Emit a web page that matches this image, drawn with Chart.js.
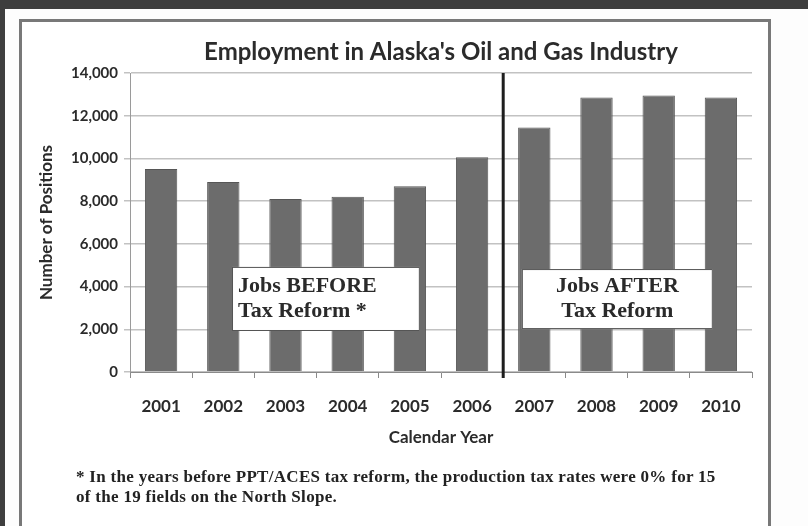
<!DOCTYPE html>
<html>
<head>
<meta charset="utf-8">
<script src="https://cdn.jsdelivr.net/npm/chart.js@4"></script>
<style>
  html, body { margin: 0; padding: 0; }
  body { width: 808px; height: 526px; background: #3e3e3e; position: relative; overflow: hidden; }
  #sheet { position: absolute; left: 5px; top: 9px; width: 803px; height: 517px; background: #fdfdfd; }
  #panel { position: absolute; left: 19px; top: 19px; width: 746px; height: 520px; border: 3px solid #787878; background: #fff; }
  #wrap { position: absolute; left: 0; top: 0; width: 808px; height: 526px; }
  #note { position: absolute; left: 76px; top: 467px; width: 700px; font: bold 17px "Liberation Serif", serif; letter-spacing: 0.3px; color: #222; line-height: 20px; }
</style>
</head>
<body>
<div id="sheet"></div>
<div id="panel"></div>
<div id="wrap"><canvas id="myChart" width="808" height="526"></canvas></div>
<div id="note">* In the years before PPT/ACES tax reform, the production tax rates were 0% for 15<br>of the 19 fields on the North Slope.</div>
<script>
const years = ['2001', '2002', '2003', '2004', '2005', '2006', '2007', '2008', '2009', '2010'];
const positions = [9500, 8900, 8100, 8200, 8700, 10050, 11450, 12850, 12950, 12850];
const yTicks = [0, 2000, 4000, 6000, 8000, 10000, 12000, 14000];

const titleText = "Employment in Alaska's Oil and Gas Industry";
const boxes = [
  { lines: ['Jobs BEFORE', 'Tax Reform *'], x0: 1.14, x1: 4.16, y0: 1920, y1: 4920, align: 'left' },
  { lines: ['Jobs AFTER', 'Tax Reform'], x0: 5.80, x1: 8.87, y0: 2010, y1: 4820, align: 'center' }
];

const extras = {
  id: 'extras',
  afterDatasetsDraw(chart) {
    const ctx = chart.ctx;
    const xs = chart.scales.x, ys = chart.scales.y;
    const area = chart.chartArea;

    // divider between 2006 and 2007
    const xd = xs.getPixelForValue(5.5);
    ctx.save();
    ctx.strokeStyle = '#1e1e1e';
    ctx.lineWidth = 3;
    ctx.beginPath();
    ctx.moveTo(xd, area.top);
    ctx.lineTo(xd, area.bottom + 6);
    ctx.stroke();

    // text boxes
    boxes.forEach(b => {
      const l = xs.getPixelForValue(b.x0), r = xs.getPixelForValue(b.x1);
      const t = ys.getPixelForValue(b.y1), bt = ys.getPixelForValue(b.y0);
      ctx.fillStyle = '#ffffff';
      ctx.fillRect(l, t, r - l, bt - t);
      ctx.strokeStyle = '#555';
      ctx.lineWidth = 1;
      ctx.strokeRect(l + 0.5, t + 0.5, r - l - 1, bt - t - 1);
      ctx.fillStyle = '#2a2a2a';
      ctx.font = 'bold 22px "Liberation Serif", serif';
      ctx.textBaseline = 'middle';
      const mid = (t + bt) / 2;
      b.lines.forEach((s, i) => {
        const y = mid + (i - 0.5) * 25;
        if (b.align === 'left') {
          ctx.textAlign = 'left';
          ctx.fillText(s, l + 6, y);
        } else {
          ctx.textAlign = 'center';
          ctx.fillText(s, (l + r) / 2, y);
        }
      });
    });

    // title
    ctx.fillStyle = '#2b2b2b';
    ctx.font = 'bold 24px Lato, sans-serif';
    ctx.textAlign = 'center';
    ctx.textBaseline = 'middle';
    ctx.fillText(titleText, (area.left + area.right) / 2, 52);
    ctx.restore();
  }
};

const ctx = document.getElementById('myChart').getContext('2d');
const myChart = new Chart(ctx, {
  type: 'bar',
  data: {
    labels: years,
    datasets: [{
      label: 'Number of Positions',
      data: positions,
      backgroundColor: '#6c6c6c',
      borderColor: '#565656',
      borderWidth: 1,
      categoryPercentage: 1,
      barPercentage: 0.52
    }]
  },
  options: {
    responsive: false,
    animation: false,
    layout: { padding: { left: 36, right: 56, top: 73, bottom: 78 } },
    plugins: {
      legend: { display: false },
      title: { display: false },
      tooltip: { enabled: false }
    },
    scales: {
      x: {
        grid: { offset: true, drawOnChartArea: false, drawTicks: true, tickLength: 6, color: '#8a8a8a' },
        border: { color: '#8a8a8a', width: 1 },
        ticks: { color: '#2b2b2b', font: { family: 'Lato', size: 17, weight: 'bold' }, padding: 18 },
        title: { display: true, text: 'Calendar Year', color: '#2b2b2b', font: { family: 'Lato', size: 17, weight: 'bold' }, padding: { top: 4, bottom: 0 } },
        afterFit(scale) { scale.height = 76; }
      },
      y: {
        min: 0,
        max: 14000,
        afterBuildTicks(scale) { scale.ticks = yTicks.map(v => ({ value: v })); },
        grid: { color: '#c2c2c2', lineWidth: 1.5, tickLength: 6 },
        border: { color: '#9a9a9a', width: 1 },
        ticks: {
          color: '#2b2b2b',
          font: { family: 'Lato', size: 15, weight: 'bold' },
          padding: 6,
          callback: v => v.toLocaleString('en-US')
        },
        title: { display: true, text: 'Number of Positions', color: '#2b2b2b', font: { family: 'Lato', size: 17, weight: 'bold' }, padding: 0 },
        afterFit(scale) { scale.width = 94; }
      }
    }
  },
  plugins: [extras]
});
</script>
</body>
</html>
